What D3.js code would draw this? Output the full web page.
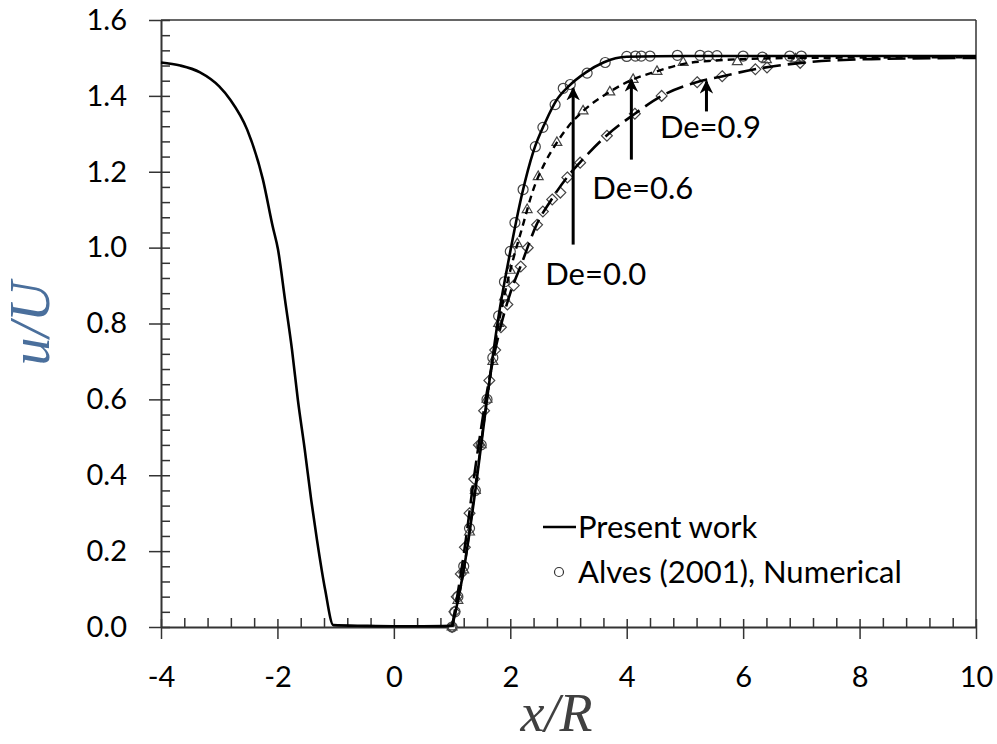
<!DOCTYPE html>
<html>
<head>
<meta charset="utf-8">
<script src="https://cdn.jsdelivr.net/npm/d3@7"></script>
<style>
  body { margin: 0; background: #fff; }
  text { font-family: Lato, "Open Sans", sans-serif; }
</style>
</head>
<body>
<div id="chart"></div>
<script>
// tick labels
const xTicks = [-4, -2, 0, 2, 4, 6, 8, 10];
const yTicks = [0.0, 0.2, 0.4, 0.6, 0.8, 1.0, 1.2, 1.4, 1.6];

// present work, upstream side (all De overlap)
const upX = [-4, -3.67, -3.33, -3.0, -2.81, -2.52, -2.25, -2.08, -1.99, -1.87, -1.75, -1.65, -1.53, -1.42, -1.32, -1.18, -1.04, -0.5, 0, 0.5, 1.0];
const upY = [1.488, 1.48, 1.462, 1.425, 1.39, 1.311, 1.18, 1.055, 0.995, 0.863, 0.731, 0.6, 0.467, 0.335, 0.229, 0.098, 0.005, 0.003, 0.002, 0.002, 0.003];

// present work, downstream side
const de0X = [1.0, 1.1, 1.2, 1.4, 1.6, 1.8, 2.0, 2.2, 2.4, 2.6, 2.8, 3.0, 3.3, 3.6, 4.0, 5.0, 10];
const de0Y = [0, 0.07, 0.15, 0.36, 0.6, 0.82, 0.99, 1.14, 1.255, 1.33, 1.39, 1.425, 1.462, 1.488, 1.503, 1.505, 1.505];
const de06X = [1.0, 1.2, 1.4, 1.6, 1.8, 2.0, 2.2, 2.4, 2.6, 2.8, 3.0, 3.25, 3.7, 4.1, 4.5, 5.0, 5.5, 6.0, 7.0, 10];
const de06Y = [0, 0.15, 0.37, 0.6, 0.8, 0.94, 1.05, 1.155, 1.225, 1.277, 1.32, 1.36, 1.41, 1.443, 1.464, 1.485, 1.493, 1.497, 1.5, 1.502];
const de09X = [1.0, 1.2, 1.4, 1.6, 1.8, 2.0, 2.2, 2.45, 2.7, 3.0, 3.2, 3.65, 4.14, 4.6, 5.2, 5.65, 6.2, 7.0, 8.2, 10];
const de09Y = [0, 0.19, 0.42, 0.62, 0.77, 0.88, 0.96, 1.06, 1.125, 1.19, 1.225, 1.295, 1.353, 1.40, 1.436, 1.452, 1.47, 1.487, 1.497, 1.5];

// Alves (2001) numerical
const alv0X = [1.0, 1.05, 1.1, 1.2, 1.3, 1.4, 1.5, 1.6, 1.7, 1.8, 1.9, 2.0, 2.08, 2.22, 2.43, 2.56, 2.77, 2.91, 3.03, 3.32, 3.63, 4.0, 4.15, 4.25, 4.4, 4.87, 5.26, 5.4, 5.55, 6.0, 6.33, 6.8, 7.0];
const alv0Y = [0.0, 0.04, 0.08, 0.16, 0.26, 0.36, 0.48, 0.6, 0.71, 0.82, 0.91, 0.99, 1.066, 1.153, 1.266, 1.317, 1.377, 1.42, 1.43, 1.46, 1.488, 1.504, 1.505, 1.505, 1.505, 1.507, 1.507, 1.505, 1.506, 1.505, 1.502, 1.505, 1.505];
const alv06X = [1.0, 1.1, 1.2, 1.3, 1.4, 1.5, 1.6, 1.7, 1.8, 1.9, 2.0, 2.12, 2.29, 2.48, 2.8, 3.25, 3.71, 4.11, 4.52, 4.97, 5.9, 6.4, 6.9];
const alv06Y = [0.0, 0.07, 0.15, 0.25, 0.36, 0.48, 0.6, 0.7, 0.8, 0.87, 0.94, 1.01, 1.10, 1.187, 1.277, 1.36, 1.41, 1.443, 1.464, 1.488, 1.49, 1.495, 1.497];
const alv09X = [1.0, 1.04, 1.08, 1.15, 1.22, 1.3, 1.38, 1.46, 1.55, 1.64, 1.74, 1.84, 1.95, 2.06, 2.18, 2.3, 2.46, 2.56, 2.72, 2.86, 2.98, 3.2, 3.66, 4.14, 4.6, 5.21, 5.64, 6.21, 6.41, 6.98];
const alv09Y = [0.0, 0.04, 0.08, 0.14, 0.21, 0.3, 0.39, 0.48, 0.57, 0.65, 0.73, 0.79, 0.85, 0.9, 0.95, 1.0, 1.06, 1.095, 1.127, 1.145, 1.185, 1.224, 1.295, 1.353, 1.40, 1.436, 1.452, 1.47, 1.475, 1.487];

// annotations: label, text position, arrow tail and tip
const notes = [
    {label: "De=0.0", tx: 2.6, ty: 0.93, ax: 3.08, y0: 1.008, y1: 1.42},
    {label: "De=0.6", tx: 3.41, ty: 1.158, ax: 4.08, y0: 1.232, y1: 1.443},
    {label: "De=0.9", tx: 4.57, ty: 1.317, ax: 5.37, y0: 1.359, y1: 1.438}
];

const zip = (xs, ys) => xs.map((v, i) => ({x: v, y: ys[i]}));

const margin = {top: 20, right: 21, bottom: 117, left: 161},
    width = 997 - margin.left - margin.right,
    height = 744 - margin.top - margin.bottom;

const svg = d3.select("#chart")
    .append("svg")
    .attr("width", 997)
    .attr("height", 744)
    .append("g")
    .attr("transform", `translate(${margin.left},${margin.top})`);

const x = d3.scaleLinear().domain([-4, 10]).range([0, width]);
const y = d3.scaleLinear().domain([0, 1.6]).range([height, 0]);

const axisColor = "#333";

// minor ticks
const xMinor = d3.range(0, 36).map(i => -4 + i * 0.4).filter(v => Math.abs(v / 2 - Math.round(v / 2)) > 1e-6);
const yMinor = d3.range(0, 41).map(i => i * 0.04).filter(v => Math.abs(v / 0.2 - Math.round(v / 0.2)) > 1e-6);

svg.append("g")
    .attr("transform", `translate(0, ${height})`)
    .call(d3.axisTop(x).tickValues(xMinor).tickFormat("").tickSizeInner(9).tickSizeOuter(0))
    .call(g => g.select(".domain").remove())
    .selectAll("line").attr("stroke", axisColor).attr("stroke-width", 1.5);

svg.append("g")
    .call(d3.axisRight(y).tickValues(yMinor).tickFormat("").tickSizeInner(9).tickSizeOuter(0))
    .call(g => g.select(".domain").remove())
    .selectAll("line").attr("stroke", axisColor).attr("stroke-width", 1.5);

// major axes
const xAxis = svg.append("g")
    .attr("transform", `translate(0, ${height})`)
    .call(d3.axisBottom(x).tickValues(xTicks).tickFormat(d => String(d))
        .tickSizeInner(12).tickSizeOuter(0).tickPadding(27));
xAxis.selectAll("line").attr("y1", -8).attr("stroke", axisColor).attr("stroke-width", 1.5);
xAxis.select(".domain").attr("stroke", axisColor).attr("stroke-width", 2);
xAxis.selectAll("text").style("font-size", "29px").attr("fill", "#000");

const yAxis = svg.append("g")
    .call(d3.axisLeft(y).tickValues(yTicks).tickFormat(d3.format(".1f")).tickSizeInner(12).tickSizeOuter(0).tickPadding(22));
yAxis.selectAll("line").attr("x1", 9).attr("stroke", axisColor).attr("stroke-width", 1.5);
yAxis.select(".domain").attr("stroke", axisColor).attr("stroke-width", 2);
yAxis.selectAll("text").style("font-size", "29px").attr("fill", "#000");

// top and right frame
svg.append("line").attr("x1", 0).attr("x2", width).attr("y1", 0).attr("y2", 0)
    .attr("stroke", axisColor).attr("stroke-width", 1.5);
svg.append("line").attr("x1", width).attr("x2", width).attr("y1", 0).attr("y2", height)
    .attr("stroke", axisColor).attr("stroke-width", 1.5);

const line = d3.line()
    .x(d => x(d.x))
    .y(d => y(d.y))
    .curve(d3.curveMonotoneX);

// markers first, lines drawn on top
const mk = "#444";
svg.append("g").selectAll("path")
    .data(zip(alv09X, alv09Y))
    .join("path")
    .attr("transform", d => `translate(${x(d.x)},${y(d.y)})`)
    .attr("d", d3.symbol(d3.symbolDiamond2, 75))
    .attr("fill", "#fff").attr("stroke", mk).attr("stroke-width", 1.2);

svg.append("g").selectAll("path")
    .data(zip(alv06X, alv06Y))
    .join("path")
    .attr("transform", d => `translate(${x(d.x)},${y(d.y)})`)
    .attr("d", d3.symbol(d3.symbolTriangle2, 70))
    .attr("fill", "none").attr("stroke", mk).attr("stroke-width", 1.2);

svg.append("g").selectAll("circle")
    .data(zip(alv0X, alv0Y))
    .join("circle")
    .attr("cx", d => x(d.x))
    .attr("cy", d => y(d.y))
    .attr("r", 5)
    .attr("fill", "none").attr("stroke", mk).attr("stroke-width", 1.2);

svg.append("path").datum(zip(upX, upY))
    .attr("fill", "none").attr("stroke", "#000").attr("stroke-width", 2.6)
    .attr("stroke-linejoin", "round")
    .attr("d", line);

svg.append("path").datum(zip(de09X, de09Y))
    .attr("fill", "none").attr("stroke", "#000").attr("stroke-width", 2.6)
    .attr("stroke-dasharray", "18,7")
    .attr("d", line);

svg.append("path").datum(zip(de06X, de06Y))
    .attr("fill", "none").attr("stroke", "#000").attr("stroke-width", 2.4)
    .attr("stroke-dasharray", "7,5")
    .attr("d", line);

svg.append("path").datum(zip(de0X, de0Y))
    .attr("fill", "none").attr("stroke", "#000").attr("stroke-width", 2.6)
    .attr("stroke-linejoin", "round")
    .attr("d", line);

// arrows
svg.append("defs").append("marker")
    .attr("id", "arrow")
    .attr("viewBox", "0 0 10 10")
    .attr("refX", 9).attr("refY", 5)
    .attr("markerWidth", 4.5).attr("markerHeight", 4.5)
    .attr("markerUnits", "strokeWidth")
    .attr("orient", "auto")
    .append("path")
    .attr("d", "M0,0 L10,5 L0,10 L3,5 Z")
    .attr("fill", "#000");

const ann = svg.append("g");
notes.forEach(n => {
    ann.append("line")
        .attr("x1", x(n.ax)).attr("x2", x(n.ax))
        .attr("y1", y(n.y0)).attr("y2", y(n.y1))
        .attr("stroke", "#000").attr("stroke-width", 3)
        .attr("marker-end", "url(#arrow)");
    ann.append("text")
        .attr("x", x(n.tx)).attr("y", y(n.ty))
        .attr("dy", "0.35em")
        .style("font-size", "31px")
        .text(n.label);
});

// legend
const leg = svg.append("g").attr("transform", `translate(${543 - margin.left},${527 - margin.top})`);
leg.append("line").attr("x1", 0).attr("x2", 33).attr("y1", 0).attr("y2", 0)
    .attr("stroke", "#000").attr("stroke-width", 2.5);
leg.append("text").attr("x", 35).attr("y", 0).attr("dy", "0.35em")
    .style("font-size", "31px").text("Present work");
leg.append("circle").attr("cx", 16).attr("cy", 45).attr("r", 4.5)
    .attr("fill", "none").attr("stroke", "#333").attr("stroke-width", 1.2);
leg.append("text").attr("x", 35).attr("y", 45).attr("dy", "0.35em")
    .style("font-size", "31px").text("Alves (2001), Numerical");

// axis titles
svg.append("text")
    .attr("x", width / 2 - 12)
    .attr("y", height + 104)
    .attr("text-anchor", "middle")
    .style("font-family", "'Liberation Serif', 'DejaVu Serif', serif")
    .style("font-style", "italic")
    .style("font-size", "54px")
    .attr("fill", "#404040")
    .text("x/R");

svg.append("text")
    .attr("transform", `translate(${-112},${height / 2}) rotate(-90)`)
    .attr("text-anchor", "middle")
    .style("font-family", "'Liberation Serif', 'DejaVu Serif', serif")
    .style("font-style", "italic")
    .style("font-size", "56px")
    .attr("fill", "#4a6f9c")
    .text("u/U");
</script>
</body>
</html>
